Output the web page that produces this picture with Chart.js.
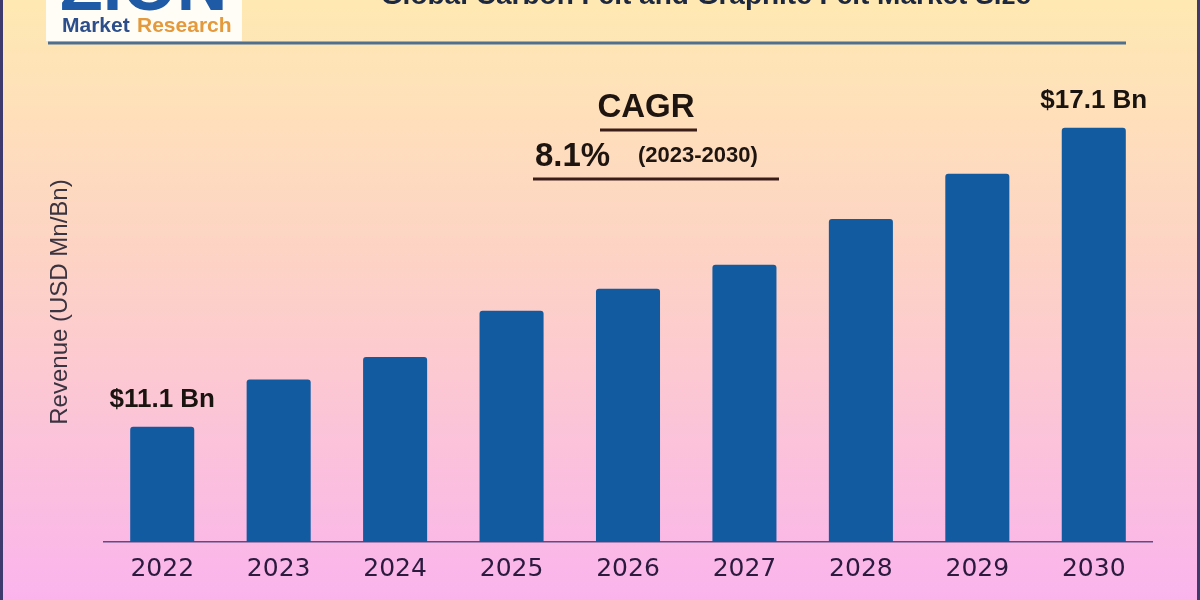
<!DOCTYPE html>
<html>
<head>
<meta charset="utf-8">
<script src="https://cdn.jsdelivr.net/npm/chart.js@4.4.1/dist/chart.umd.min.js"></script>
<style>
  html, body { margin: 0; padding: 0; }
  #wrap { width: 1200px; height: 600px; }
</style>
</head>
<body>
<div id="wrap"><canvas id="marketChart" width="1200" height="600"></canvas></div>
<script>
// chart data
const years = ['2022', '2023', '2024', '2025', '2026', '2027', '2028', '2029', '2030'];
const revenue = [11.1, 12.05, 12.5, 13.43, 13.87, 14.35, 15.27, 16.18, 17.1];
const valueLabels = ['$11.1 Bn', '', '', '', '', '', '', '', '$17.1 Bn'];
const chartTitle = 'Global Carbon Felt and Graphite Felt Market Size';
const axisTitle = 'Revenue (USD Mn/Bn)';
const cagrValue = '8.1%';
const cagrPeriod = '(2023-2030)';

// background, header, logo and annotations
const decorPlugin = {
    id: 'decor',
    beforeDraw(chart) {
        const ctx = chart.ctx;
        const w = chart.width, h = chart.height;
        ctx.save();
        const g = ctx.createLinearGradient(0, 0, 0, h);
        g.addColorStop(0, '#ffe9b2');
        g.addColorStop(0.45, '#fdd2c6');
        g.addColorStop(1, '#fab4ec');
        ctx.fillStyle = g;
        ctx.fillRect(0, 0, w, h);

        // side borders
        ctx.fillStyle = '#3f3a6e';
        ctx.fillRect(0, 0, 3, h);
        ctx.fillRect(w - 3, 0, 3, h);

        // logo box
        ctx.fillStyle = '#fffdf6';
        ctx.fillRect(46, 0, 196, 41);
        ctx.fillStyle = '#1f5aa6';
        ctx.font = 'bold 70px "Liberation Sans"';
        ctx.textBaseline = 'alphabetic';
        ctx.textAlign = 'left';
        ctx.fillText('ZION', 60, 10);
        ctx.font = 'bold 21px "Liberation Sans"';
        ctx.fillStyle = '#2c4f8c';
        ctx.fillText('Market', 62, 32);
        ctx.fillStyle = '#e49a3c';
        ctx.fillText('Research', 137, 32);

        // title, cut off at the top
        ctx.fillStyle = '#1c2740';
        ctx.font = 'bold 28px "Liberation Sans"';
        ctx.textAlign = 'center';
        ctx.fillText(chartTitle, 706, 4);

        // header rule
        ctx.strokeStyle = '#4f6f8f';
        ctx.lineWidth = 3;
        ctx.beginPath();
        ctx.moveTo(48, 43);
        ctx.lineTo(1126, 43);
        ctx.stroke();

        // y axis title
        ctx.save();
        ctx.translate(60, 302);
        ctx.rotate(-Math.PI / 2);
        ctx.fillStyle = '#3a3340';
        ctx.font = '24px "Liberation Sans"';
        ctx.textAlign = 'center';
        ctx.textBaseline = 'middle';
        ctx.fillText(axisTitle, 0, 0);
        ctx.restore();

        // CAGR block
        ctx.fillStyle = '#1e1410';
        ctx.textBaseline = 'middle';
        ctx.textAlign = 'center';
        ctx.font = 'bold 33px "Liberation Sans"';
        ctx.fillText('CAGR', 646, 108);
        ctx.textAlign = 'left';
        ctx.fillText(cagrValue, 535, 157);
        ctx.font = 'bold 22px "Liberation Sans"';
        ctx.fillText(cagrPeriod, 638, 156);
        ctx.strokeStyle = '#3a1c18';
        ctx.lineWidth = 3;
        ctx.beginPath();
        ctx.moveTo(600, 130);
        ctx.lineTo(697, 130);
        ctx.moveTo(533, 179);
        ctx.lineTo(779, 179);
        ctx.stroke();
        ctx.restore();
    },
    afterDatasetsDraw(chart) {
        const ctx = chart.ctx;
        const bars = chart.getDatasetMeta(0).data;
        ctx.save();
        ctx.fillStyle = '#1a1410';
        ctx.font = 'bold 26px "Liberation Sans"';
        ctx.textAlign = 'center';
        ctx.textBaseline = 'middle';
        bars.forEach((bar, i) => {
            if (valueLabels[i]) {
                ctx.fillText(valueLabels[i], bar.x, bar.y - 27);
            }
        });
        ctx.restore();
    }
};

const ctx = document.getElementById('marketChart').getContext('2d');
new Chart(ctx, {
    type: 'bar',
    data: {
        labels: years,
        datasets: [{
            data: revenue,
            backgroundColor: '#125ba1',
            borderRadius: { topLeft: 3, topRight: 3 },
            borderSkipped: 'bottom',
            barPercentage: 0.55,
            categoryPercentage: 1
        }]
    },
    options: {
        responsive: false,
        animation: false,
        layout: {
            padding: { top: 60, left: 104, right: 48, bottom: 4 }
        },
        plugins: {
            legend: { display: false },
            tooltip: { enabled: false }
        },
        scales: {
            x: {
                grid: { display: false, drawTicks: false },
                border: { display: true, color: '#5b4d86', width: 1.5 },
                ticks: {
                    padding: 12,
                    color: '#2b1a3d',
                    font: { family: 'DejaVu Sans', size: 25 }
                }
            },
            y: {
                display: false,
                min: 8.79,
                max: 18.46
            }
        }
    },
    plugins: [decorPlugin]
});
</script>
</body>
</html>
